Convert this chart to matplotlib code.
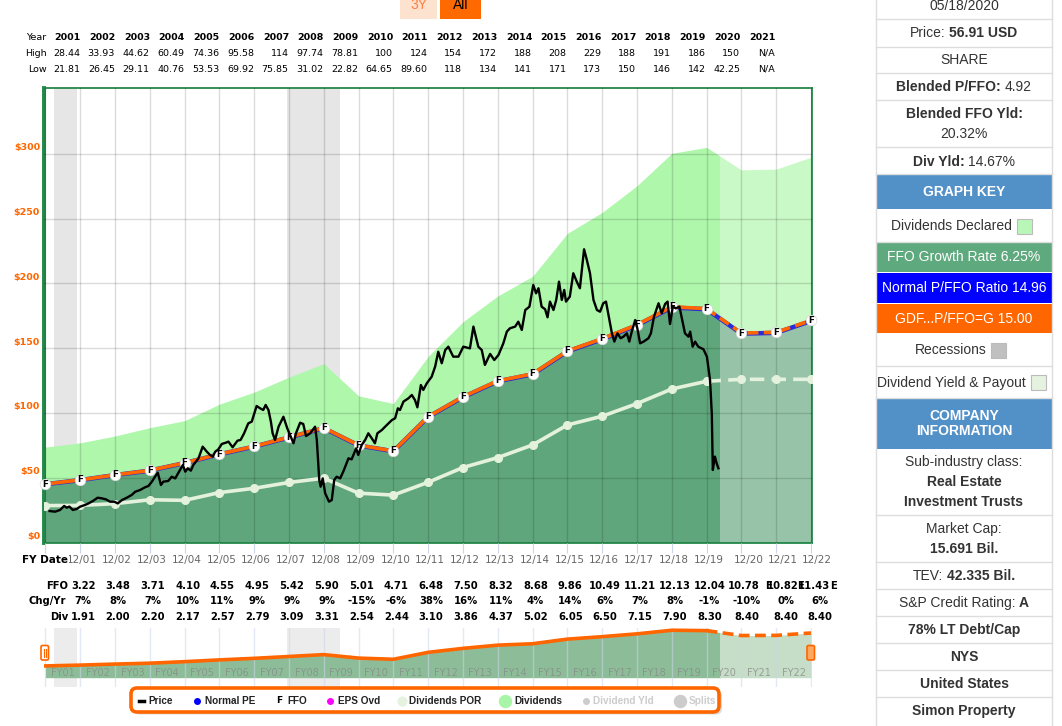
import numpy as np
import matplotlib
matplotlib.use("Agg")
import matplotlib.pyplot as plt
from matplotlib.patches import Rectangle, FancyBboxPatch

W, H = 1062, 726

# ---- values ----
fy_years = list(range(2000, 2023))          # fiscal years ending 12/00 .. 12/22
ffo = [3.01, 3.22, 3.48, 3.71, 4.10, 4.55, 4.95, 5.42, 5.90, 5.01, 4.71, 6.48,
       7.50, 8.32, 8.68, 9.86, 10.49, 11.21, 12.13, 12.04, 10.78, 10.82, 11.43]
div = [1.90, 1.91, 2.00, 2.20, 2.17, 2.57, 2.79, 3.09, 3.31, 2.54, 2.44, 3.10,
       3.86, 4.37, 5.02, 6.05, 6.50, 7.15, 7.90, 8.30, 8.40, 8.40, 8.40]
chg_yr = ["7%", "8%", "7%", "10%", "11%", "9%", "9%", "9%", "-15%", "-6%", "38%",
          "16%", "11%", "4%", "14%", "6%", "7%", "8%", "-1%", "-10%", "0%", "6%"]
gdf_ratio = 15.00
normal_ratio = 14.96
today = 2020.38

table_years = [str(y) for y in range(2001, 2022)]
table_high = ["28.44", "33.93", "44.62", "60.49", "74.36", "95.58", "114", "97.74", "78.81", "100",
              "124", "154", "172", "188", "208", "229", "188", "191", "186", "150", "N/A"]
table_low = ["21.81", "26.45", "29.11", "40.76", "53.53", "69.92", "75.85", "31.02", "22.82", "64.65",
             "89.60", "118", "134", "141", "171", "173", "150", "146", "142", "42.25", "N/A"]

recessions = [(2001.25, 2001.90), (2007.95, 2009.47)]

price_t = [2001.12, 2001.28, 2001.42, 2001.54, 2001.61, 2001.69, 2001.79, 2001.90, 2002.00, 2002.14,
           2002.24, 2002.38, 2002.50, 2002.62, 2002.74, 2002.86, 2002.98, 2003.08, 2003.20, 2003.34,
           2003.48, 2003.58, 2003.72, 2003.86, 2003.96, 2004.06, 2004.15, 2004.23, 2004.32, 2004.39,
           2004.53, 2004.63, 2004.73, 2004.87, 2004.95, 2005.02, 2005.09, 2005.18, 2005.25, 2005.40,
           2005.52, 2005.64, 2005.73, 2005.81, 2005.88, 2005.97, 2006.07, 2006.19, 2006.26, 2006.38,
           2006.52, 2006.61, 2006.71, 2006.83, 2006.93, 2007.07, 2007.17, 2007.26, 2007.33, 2007.41,
           2007.48, 2007.53, 2007.60, 2007.70, 2007.84, 2007.95, 2008.03, 2008.13, 2008.20, 2008.32,
           2008.41, 2008.49, 2008.61, 2008.75, 2008.80, 2008.87, 2008.91, 2008.97, 2009.04, 2009.15,
           2009.23, 2009.30, 2009.37, 2009.47, 2009.56, 2009.71, 2009.80, 2009.93, 2009.99, 2010.09,
           2010.19, 2010.28, 2010.38, 2010.47, 2010.54, 2010.67, 2010.81, 2010.96, 2011.05, 2011.13,
           2011.19, 2011.29, 2011.43, 2011.53, 2011.62, 2011.69, 2011.79, 2011.86, 2011.96, 2012.10,
           2012.20, 2012.29, 2012.39, 2012.49, 2012.58, 2012.72, 2012.87, 2013.01, 2013.20, 2013.30,
           2013.44, 2013.54, 2013.63, 2013.78, 2013.90, 2014.02, 2014.16, 2014.26, 2014.35, 2014.50,
           2014.59, 2014.69, 2014.79, 2014.91, 2015.02, 2015.10, 2015.17, 2015.26, 2015.36, 2015.43,
           2015.50, 2015.60, 2015.68, 2015.76, 2015.84, 2015.91, 2015.96, 2016.07, 2016.17, 2016.27,
           2016.36, 2016.48, 2016.56, 2016.65, 2016.75, 2016.85, 2016.94, 2017.03, 2017.11, 2017.21,
           2017.28, 2017.35, 2017.44, 2017.53, 2017.61, 2017.71, 2017.78, 2017.85, 2017.95, 2018.01,
           2018.09, 2018.19, 2018.33, 2018.40, 2018.49, 2018.62, 2018.71, 2018.81, 2018.88, 2018.95,
           2019.03, 2019.12, 2019.22, 2019.32, 2019.38, 2019.48, 2019.53, 2019.60, 2019.67, 2019.76,
           2019.91, 2020.01, 2020.10, 2020.15, 2020.18, 2020.24, 2020.29, 2020.34]
price_v = [24.3, 23.8, 25.1, 28.2, 26.9, 27.7, 25.1, 25.9, 27.7, 29.0,
           30.2, 32.3, 34.6, 34.1, 33.3, 31.5, 31.5, 30.2, 32.8, 34.6,
           36.7, 39.2, 40.5, 42.6, 43.6, 47.0, 50.8, 53.9, 44.4, 47.0,
           47.5, 50.8, 49.5, 56.0, 59.8, 54.7, 57.3, 55.5, 59.8, 65.0,
           74.0, 70.1, 67.6, 66.3, 70.1, 71.9, 76.1, 77.1, 77.9, 73.5,
           78.6, 79.2, 84.3, 92.0, 93.3, 105.4, 103.6, 102.3, 106.2, 102.3,
           93.3, 84.3, 79.2, 89.4, 97.1, 88.2, 83.0, 76.6, 84.3, 92.5,
           91.5, 82.2, 84.3, 89.4, 79.2, 48.3, 43.1, 49.5, 38.0, 31.5,
           32.8, 48.3, 50.8, 49.5, 54.7, 65.0, 64.2, 72.7, 67.6, 75.3,
           79.2, 84.3, 80.4, 76.6, 84.3, 86.9, 90.7, 94.6, 95.9, 103.6,
           102.3, 108.8, 111.3, 113.9, 110.0, 104.4, 121.6, 117.8, 122.9, 128.0,
           135.8, 147.3, 138.4, 148.6, 151.2, 143.5, 143.5, 151.2, 149.9, 166.7,
           151.2, 148.6, 137.1, 145.6, 140.9, 144.8, 153.8, 162.8, 165.4, 166.7,
           170.5, 164.1, 179.5, 182.1, 198.8, 192.4, 196.3, 182.1, 180.1, 173.9,
           186.0, 179.5, 187.3, 201.4, 187.3, 195.0, 186.0, 189.8, 207.9, 201.4,
           196.3, 226.4, 218.1, 207.9, 187.3, 179.5, 178.2, 184.7, 186.0, 171.8,
           161.5, 155.1, 161.5, 157.7, 158.9, 161.5, 155.1, 162.8, 171.8, 165.4,
           153.8, 155.1, 157.7, 161.5, 174.4, 184.7, 177.0, 184.2, 186.0, 168.7,
           182.1, 180.8, 182.1, 169.2, 161.5, 158.9, 162.8, 151.2, 155.1, 151.2,
           149.2, 143.5, 125.5, 99.7, 56.0, 66.3, 61.1, 57.3]

# ---- figure ----
fig = plt.figure(figsize=(W / 100, H / 100), dpi=100)
fig.patch.set_facecolor("white")


def frect(l, t, r, b):
    return [l / W, 1 - b / H, (r - l) / W, (b - t) / H]


x0, x1 = 2000.96, 2023.03
fy_x = np.array(fy_years) + 1.0
ffo_line = np.array(ffo) * gdf_ratio
npe_line = np.array(ffo) * normal_ratio
div_line = np.array(div) * gdf_ratio
div_top = ffo_line + div_line

ax = fig.add_axes(frect(44, 88.3, 812, 542.5))
ax.set_xlim(x0, x1)
ax.set_ylim(0, 350.7)

for a, b in recessions:
    ax.axvspan(a, b, color="#e6e6e6", lw=0, zorder=0)

past_clip = Rectangle((x0 - 1, -50), today - x0 + 1, 500, transform=ax.transData)
future_clip = Rectangle((today, -50), 5, 500, transform=ax.transData)
for clip, c_div, c_ffo in [(past_clip, "#aef7ab", "#5fa67c"),
                           (future_clip, "#c9f9c6", "#97c4a9")]:
    top = ax.fill_between(fy_x, ffo_line, div_top, color=c_div, lw=0, zorder=1)
    top.set_clip_path(clip)
    low = ax.fill_between(fy_x, 0, ffo_line, color=c_ffo, lw=0, zorder=1)
    low.set_clip_path(clip)

ax.set_xticks(fy_x)
ax.set_yticks(range(0, 301, 50))
ax.set_axisbelow(False)
ax.grid(True, color="black", alpha=0.14, lw=1)
ax.tick_params(axis="y", length=0, labelleft=False)
ax.tick_params(axis="x", length=7, color="#ccd6eb", labelbottom=False)
for name, sp in ax.spines.items():
    sp.set_color("#23894a")
    sp.set_linewidth(2.8 if name == "left" else 1.3)

# dividends POR
ax.plot(fy_x[:20], div_line[:20], color="#e4f1dc", lw=2.6, marker="o", ms=5.5, zorder=5)
ax.plot(fy_x[19:], div_line[19:], color="#e4f1dc", lw=2.6, ls=(0, (4, 2)), marker="o", ms=5.5, zorder=5)

# normal P/FFO and GDF lines
ax.plot(fy_x, npe_line, color="#2b2bd8", lw=3.2, zorder=5)
ax.plot(fy_x[:20], ffo_line[:20], color="#ff6600", lw=2.6, zorder=5.5)
ax.plot(fy_x[19:], ffo_line[19:], color="#ff6600", lw=2.6, ls=(0, (3, 1.5)), zorder=5.5)
ax.scatter(fy_x, ffo_line, s=60, color="white", edgecolors="#cccccc", linewidths=0.4,
           zorder=6, clip_on=False)
for x, y in zip(fy_x, ffo_line):
    ax.text(x, y, "F", ha="center", va="center", fontsize=6.3, weight="bold", zorder=7)

# price
ax.plot(price_t, price_v, color="black", lw=1.7, zorder=8)

# ---- navigator ----
nav = fig.add_axes(frect(44, 628, 812, 687))
nav.set_xlim(x0, x1)
nav.set_ylim(-35.7, 190.6)
for a, b in recessions:
    nav.axvspan(a, b, color="#ececec", lw=0, zorder=0)
nclip_p = Rectangle((x0 - 1, -50), today - x0 + 1, 500, transform=nav.transData)
nclip_f = Rectangle((today, -50), 5, 500, transform=nav.transData)
nf = nav.fill_between(fy_x, 0, ffo_line, color="#8dbd98", lw=0, zorder=1)
nf.set_clip_path(nclip_p)
nf2 = nav.fill_between(fy_x, 0, ffo_line, color="#c6ddc7", lw=0, zorder=1)
nf2.set_clip_path(nclip_f)
nav.plot(fy_x[:20], ffo_line[:20], color="#ff6600", lw=2.6, zorder=3)
nav.plot(fy_x[19:], ffo_line[19:], color="#ff6600", lw=2.6, ls=(0, (3, 1.5)), zorder=3)
nav.set_xticks(fy_x)
nav.set_axisbelow(False)
nav.grid(True, axis="x", color="#ccd6eb", alpha=0.55, lw=1)
nav.set_yticks([])
nav.tick_params(axis="x", length=0, labelbottom=False)
for sp in nav.spines.values():
    sp.set_visible(False)
for i in range(22):
    nav.text(fy_x[i] + 0.5, 17, "FY%02d" % ((fy_years[i] + 1) % 100),
             ha="center", va="center", fontsize=7, color="#888888", alpha=0.75, zorder=4)

# ---- overlay in pixel coordinates ----
ov = fig.add_axes([0, 0, 1, 1])
ov.set_xlim(0, W)
ov.set_ylim(H, 0)
ov.set_axis_off()
ov.set_zorder(10)


def to_px(axes, t, v):
    d = axes.transData.transform((t, v))
    return d[0], H - d[1]


# range buttons
ov.add_patch(Rectangle((400, -2), 37, 21, fc="#fde2cf", ec="none"))
ov.add_patch(Rectangle((440, -2), 41, 21, fc="#ff6a00", ec="none"))
ov.text(418.5, 5, "3Y", ha="center", va="center", fontsize=10, color="#ff7f3f", family="Liberation Sans")
ov.text(460.5, 5, "All", ha="center", va="center", fontsize=10, color="black", family="Liberation Sans")

# top high/low table
tfs = 6.8
for lab, yy in [("Year", 37), ("High", 53), ("Low", 69)]:
    ov.text(46.5, yy, lab, ha="right", va="center", fontsize=tfs, color="black")
for i, yr in enumerate(table_years):
    cx = 67.5 + 34.73 * i
    ov.text(cx, 37, yr, ha="center", va="center", fontsize=tfs, weight="bold", color="black")
    ov.text(cx + 12.8, 53, table_high[i], ha="right", va="center", fontsize=tfs, color="black")
    ov.text(cx + 12.8, 69, table_low[i], ha="right", va="center", fontsize=tfs, color="black")

# y labels
for v in range(0, 301, 50):
    _, yy = to_px(ax, x0, v)
    ov.text(40, yy - 6, "$%d" % v, ha="right", va="center", fontsize=6.8, weight="bold", color="#ff6600")

# bottom FY table (estimate columns sit a little further right)
bfs = 7.2
date_shift = {2020: 7, 2021: 7, 2022: 6}
val_shift = {2020: 5, 2021: 10, 2022: 9}
ffo_center = {2020: 743.5, 2021: 782.5, 2022: 813.5}
e_left = {2020: 765.5, 2021: 797.5, 2022: 830}
for i in range(1, 23):
    fy = fy_years[i]
    gx, _ = to_px(ax, fy_x[i], 0)
    ov.text(gx + date_shift.get(fy, 2), 560, "12/%02d" % (fy % 100), ha="center", va="center",
            fontsize=7.5, color="#666666")
    fx = ffo_center.get(fy, gx + 3)
    ov.text(fx, 585.7, "%.2f" % ffo[i], ha="center", va="center", fontsize=bfs,
            weight="bold", color="black")
    ov.text(gx + val_shift.get(fy, 3), 601, chg_yr[i - 1], ha="center", va="center", fontsize=bfs,
            weight="bold", color="black")
    ov.text(gx + val_shift.get(fy, 3), 616.7, "%.2f" % div[i], ha="center", va="center", fontsize=bfs,
            weight="bold", color="black")
    if fy in e_left:
        ov.text(e_left[fy], 585.7, "E", ha="left", va="center", fontsize=bfs, weight="bold",
                color="black", zorder=5)
ov.text(68, 560, "FY Date", ha="right", va="center", fontsize=7.5, weight="bold", color="black",
        bbox=dict(fc="white", ec="none", pad=1.0))
ov.text(68, 585.7, "FFO", ha="right", va="center", fontsize=bfs, weight="bold", color="black")
ov.text(66, 601, "Chg/Yr", ha="right", va="center", fontsize=bfs, weight="bold", color="black")
ov.text(68, 616.7, "Div", ha="right", va="center", fontsize=bfs, weight="bold", color="black")

# navigator handles
ov.add_patch(FancyBboxPatch((41, 645.5), 7.5, 14.5, boxstyle="round,pad=0,rounding_size=1.5",
                            fc="white", ec="#ff6600", lw=1.2))
ov.plot([43.6, 43.6], [649, 656.5], color="#ff6600", lw=0.8)
ov.plot([45.6, 45.6], [649, 656.5], color="#ff6600", lw=0.8)
ov.add_patch(FancyBboxPatch((807, 645.5), 7.5, 14.5, boxstyle="round,pad=0,rounding_size=1.5",
                            fc="#ffa860", ec="#ff6600", lw=1.2))

# legend box
ov.add_patch(FancyBboxPatch((134, 690.5), 588, 24, boxstyle="round,pad=0,rounding_size=6",
                            fc="#999999", ec="none", alpha=0.35))
ov.add_patch(FancyBboxPatch((131, 688), 588, 24, boxstyle="round,pad=0,rounding_size=6",
                            fc="white", ec="#ff6600", lw=2.6))
ly = 700.5
lfs = 7.2
lf = dict(ha="left", va="center", fontsize=lfs, weight="bold", family="Liberation Sans")
ov.plot([138.5, 143.5], [ly, ly], color="black", lw=2.5)
ov.text(148.6, ly, "Price", color="#222222", **lf)
ov.scatter([197], [ly], s=16, color="#0000ff")
ov.text(205, ly, "Normal PE", color="#222222", **lf)
ov.text(279.5, ly, "F", ha="center", va="center", fontsize=6.5, weight="bold", color="black")
ov.text(287.5, ly, "FFO", color="#222222", **lf)
ov.scatter([330], [ly], s=16, color="#ff00ff")
ov.text(338, ly, "EPS Ovd", color="#222222", **lf)
ov.scatter([401.5], [ly], s=40, color="#e6f2e0")
ov.text(409.4, ly, "Dividends POR", color="#222222", **lf)
ov.scatter([505], [ly], s=75, color="#a8f5a8")
ov.text(514, ly, "Dividends", color="#222222", **lf)
ov.scatter([586], [ly], s=16, color="#cccccc")
ov.text(593.4, ly, "Dividend Yld", color="#cccccc", **lf)
ov.scatter([680], [ly], s=75, color="#cccccc")
ov.text(689, ly, "Splits", color="#cccccc", **lf)

# ---- right info panel ----
PL, PR = 876, 1052
PC = (PL + PR) / 2
pcol = "#333333"
renderer = fig.canvas.get_renderer()


def mixed(y, parts, color=pcol, size=10, gap=3.5):
    objs = [ov.text(0, y, s, fontsize=size, weight=w, color=color, family="Liberation Sans",
                    ha="left", va="center") for s, w in parts]
    widths = [o.get_window_extent(renderer).width for o in objs]
    x = PC - (sum(widths) + gap * (len(objs) - 1)) / 2
    for o, wd in zip(objs, widths):
        o.set_x(x)
        x += wd + gap


colored = [(174.3, 209.3, "#5290c8"), (241.7, 271.7, "#5fa97e"),
           (272.7, 302.7, "#0000ff"), (304, 333.3, "#ff6600"), (399, 449, "#5290c8")]
for t, b, c in colored:
    ov.add_patch(Rectangle((PL, t), PR - PL, b - t, fc=c, ec="none"))
for yy in [19.3, 46.7, 73.3, 100, 146.7, 174.3, 241.7, 366, 398.3, 515, 561.7, 589, 616, 643.3, 670, 697.3]:
    ov.plot([PL, PR], [yy, yy], color="#dddddd", lw=1)
ov.plot([PL, PL], [0, H], color="#dddddd", lw=1)
ov.plot([PR, PR], [0, H], color="#dddddd", lw=1)

mixed(6, [("05/18/2020", "normal")])
mixed(33, [("Price:", "normal"), ("56.91 USD", "bold")])
mixed(60, [("SHARE", "normal")])
mixed(87.3, [("Blended P/FFO:", "bold"), ("4.92", "normal")])
mixed(114.3, [("Blended FFO Yld:", "bold")])
mixed(134.3, [("20.32%", "normal")])
mixed(161.7, [("Div Yld:", "bold"), ("14.67%", "normal")])
mixed(191.7, [("GRAPH KEY", "bold")], color="white")
mixed(257.3, [("FFO Growth Rate 6.25%", "normal")], color="white")
mixed(288.3, [("Normal P/FFO Ratio 14.96", "normal")], color="white")
mixed(319.3, [("GDF...P/FFO=G 15.00", "normal")], color="white")
mixed(415.7, [("COMPANY", "bold")], color="white")
mixed(431, [("INFORMATION", "bold")], color="white")
mixed(461.7, [("Sub-industry class:", "normal")])
mixed(481.7, [("Real Estate", "bold")])
mixed(501.7, [("Investment Trusts", "bold")])
mixed(529.3, [("Market Cap:", "normal")])
mixed(549.3, [("15.691 Bil.", "bold")])
mixed(576, [("TEV:", "normal"), ("42.335 Bil.", "bold")])
mixed(603.3, [("S&P Credit Rating:", "normal"), ("A", "bold")])
mixed(630, [("78% LT Debt/Cap", "bold")])
mixed(656.7, [("NYS", "bold")])
mixed(684, [("United States", "bold")])
mixed(710.7, [("Simon Property", "bold")])

key_rows = [("Dividends Declared", 226, 1011.7, 1016.7, "#b9f7b9"),
            ("Recessions", 350, 986.7, 991, "#c0c0c0"),
            ("Dividend Yield & Payout", 382.7, 1025.7, 1030.7, "#e6f2e0")]
for lab, yy, rx, sx, c in key_rows:
    ov.text(rx, yy, lab, ha="right", va="center", fontsize=10, color=pcol, family="Liberation Sans")
    ov.add_patch(Rectangle((sx, yy - 7.5), 15, 15, fc=c, ec="#bbbbbb", lw=0.8))

fig.savefig("out.png", dpi=100)
